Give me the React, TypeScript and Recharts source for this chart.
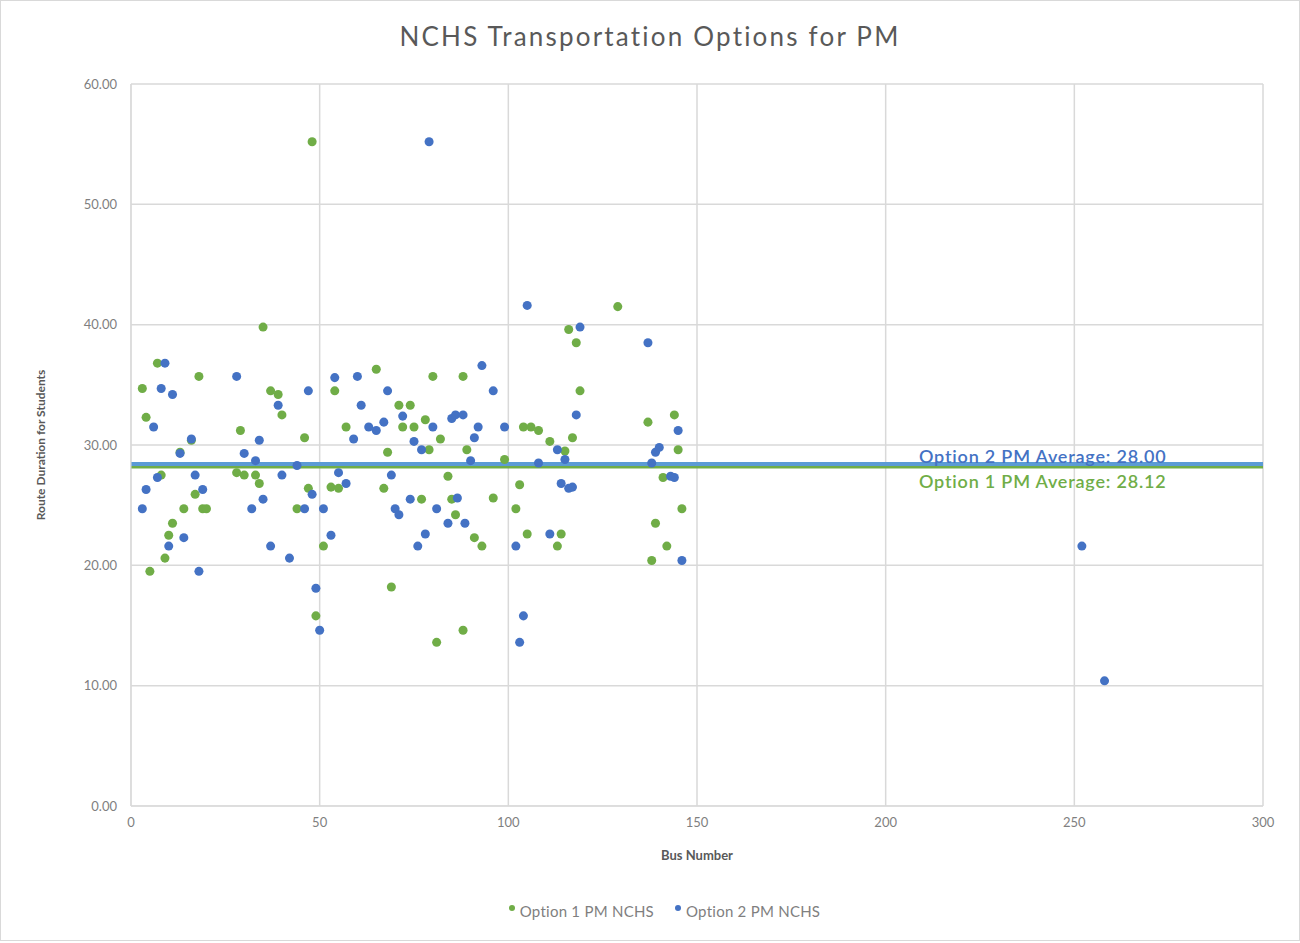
import {
  CartesianGrid,
  ReferenceLine,
  Scatter,
  ScatterChart,
  XAxis,
  YAxis,
  ZAxis,
} from "recharts";

// Option 1 PM NCHS (green)
const opt1Bus = [
  3, 4, 5, 7, 8, 9, 10, 11, 13, 14, 16, 17, 18, 19, 20, 28, 29, 30, 33, 34, 35, 37, 39, 40, 44,
  46, 47, 48, 49, 51, 53, 54, 55, 57, 65, 67, 68, 69, 71, 72, 74, 75, 77, 78, 79, 80, 81, 82, 84,
  85, 86, 88, 88, 89, 91, 93, 96, 99, 102, 103, 104, 105, 106, 108, 111, 113, 114, 115, 116, 117,
  118, 119, 129, 137, 138, 139, 141, 142, 144, 145, 146,
];
const opt1Time = [
  34.7, 32.3, 19.5, 36.8, 27.5, 20.6, 22.5, 23.5, 29.4, 24.7, 30.4, 25.9, 35.7, 24.7, 24.7, 27.7,
  31.2, 27.5, 27.5, 26.8, 39.8, 34.5, 34.2, 32.5, 24.7, 30.6, 26.4, 55.2, 15.8, 21.6, 26.5, 34.5,
  26.4, 31.5, 36.3, 26.4, 29.4, 18.2, 33.3, 31.5, 33.3, 31.5, 25.5, 32.1, 29.6, 35.7, 13.6, 30.5,
  27.4, 25.5, 24.2, 14.6, 35.7, 29.6, 22.3, 21.6, 25.6, 28.8, 24.7, 26.7, 31.5, 22.6, 31.5, 31.2,
  30.3, 21.6, 22.6, 29.5, 39.6, 30.6, 38.5, 34.5, 41.5, 31.9, 20.4, 23.5, 27.3, 21.6, 32.5, 29.6,
  24.7,
];

// Option 2 PM NCHS (blue)
const opt2Bus = [
  3, 4, 6, 7, 8, 9, 10, 11, 13, 14, 16, 17, 18, 19, 28, 30, 32, 33, 34, 35, 37, 39, 40, 42, 44,
  46, 47, 48, 49, 50, 51, 53, 54, 55, 57, 59, 60, 61, 63, 65, 67, 68, 69, 70, 71, 72, 74, 75, 76,
  77, 78, 79, 80, 81, 84, 85, 86, 86.5, 88, 88.5, 90, 91, 92, 93, 96, 99, 102, 103, 104, 105, 108,
  111, 113, 114, 115, 116, 117, 118, 119, 137, 138, 139, 140, 143, 144, 145, 146, 252, 258,
];
const opt2Time = [
  24.7, 26.3, 31.5, 27.3, 34.7, 36.8, 21.6, 34.2, 29.3, 22.3, 30.5, 27.5, 19.5, 26.3, 35.7, 29.3,
  24.7, 28.7, 30.4, 25.5, 21.6, 33.3, 27.5, 20.6, 28.3, 24.7, 34.5, 25.9, 18.1, 14.6, 24.7, 22.5,
  35.6, 27.7, 26.8, 30.5, 35.7, 33.3, 31.5, 31.2, 31.9, 34.5, 27.5, 24.7, 24.2, 32.4, 25.5, 30.3,
  21.6, 29.6, 22.6, 55.2, 31.5, 24.7, 23.5, 32.2, 32.5, 25.6, 32.5, 23.5, 28.7, 30.6, 31.5, 36.6,
  34.5, 31.5, 21.6, 13.6, 15.8, 41.6, 28.5, 22.6, 29.6, 26.8, 28.8, 26.4, 26.5, 32.5, 39.8, 38.5,
  28.5, 29.4, 29.8, 27.4, 27.3, 31.2, 20.4, 21.6, 10.4,
];

const opt1Avg = 28.12;
const opt2Avg = 28.0;

const xTicks = [0, 50, 100, 150, 200, 250, 300];
const yTicks = [0, 10, 20, 30, 40, 50, 60];

const GREEN = "#70ad47";
const BLUE = "#4472c4";
const LINE_BLUE = "#5b9bd5";
const FONT = "Lato, 'Open Sans', sans-serif";

const opt1 = opt1Bus.map((bus, i) => ({ bus, time: opt1Time[i] }));
const opt2 = opt2Bus.map((bus, i) => ({ bus, time: opt2Time[i] }));

// shifts a thick reference line a couple of pixels so both bands stay visible
function shiftedLine(dy: number, color: string) {
  return (props: any) => (
    <line
      x1={props.x1}
      x2={props.x2}
      y1={props.y1 + dy}
      y2={props.y2 + dy}
      stroke={color}
      strokeWidth={4}
    />
  );
}

function avgLabel(text: string, color: string, dy: number) {
  return (props: any) => {
    const vb = props.viewBox;
    return (
      <text
        x={vb.x + 788}
        y={vb.y + dy}
        fill={color}
        fontFamily={FONT}
        fontSize={18}
        fontWeight={600}
        letterSpacing={0.8}
      >
        {text}
      </text>
    );
  };
}

function LegendBox() {
  const items = [
    { name: "Option 1 PM NCHS", color: GREEN },
    { name: "Option 2 PM NCHS", color: BLUE },
  ];
  return (
    <div
      style={{
        position: "absolute",
        top: 901,
        left: 14,
        width: "100%",
        display: "flex",
        justifyContent: "center",
        gap: 20,
        fontFamily: FONT,
      }}
    >
      {items.map((it) => (
        <span
          key={it.name}
          style={{ display: "flex", alignItems: "center", fontSize: 15, color: "#7f7f7f", letterSpacing: 0.25 }}
        >
          <svg width={8} height={14} style={{ marginRight: 4 }}>
            <circle cx={4} cy={4} r={3} fill={it.color} />
          </svg>
          {it.name}
        </span>
      ))}
    </div>
  );
}

export default function App() {
  return (
    <div
      style={{
        position: "absolute",
        left: 0,
        top: 0,
        width: 1298,
        height: 939,
        border: "1px solid #d9d9d9",
        background: "#fff",
        fontFamily: FONT,
      }}
    >
      <div
        style={{
          position: "absolute",
          top: 19,
          width: "100%",
          textAlign: "center",
          fontSize: 26,
          color: "#595959",
          letterSpacing: 2.2,
        }}
      >
        NCHS Transportation Options for PM
      </div>
      <ScatterChart
        width={1298}
        height={939}
        margin={{ top: 83, right: 36, bottom: 84, left: 70 }}
      >
        <CartesianGrid stroke="#d9d9d9" strokeWidth={1.5} />
        <XAxis
          type="number"
          dataKey="bus"
          domain={[0, 300]}
          ticks={xTicks}
          allowDataOverflow
          stroke="#d9d9d9"
          tickLine={false}
          tick={{ fill: "#7f7f7f", fontSize: 13, fontFamily: FONT }}
          tickMargin={6}
          height={50}
          label={{
            value: "Bus Number",
            position: "insideBottom",
            offset: -4,
            fill: "#595959",
            fontSize: 13,
            fontWeight: 700,
            fontFamily: FONT,
          }}
        />
        <YAxis
          type="number"
          dataKey="time"
          domain={[0, 60]}
          ticks={yTicks}
          stroke="#d9d9d9"
          tickLine={false}
          tickFormatter={(v: number) => v.toFixed(2)}
          tick={{ fill: "#7f7f7f", fontSize: 13, fontFamily: FONT }}
          tickMargin={8}
          width={60}
          label={{
            value: "Route  Duration for Students",
            angle: -90,
            position: "insideLeft",
            offset: -30,
            style: { textAnchor: "middle" },
            fill: "#595959",
            fontSize: 12,
            fontWeight: 700,
            fontFamily: FONT,
          }}
        />
        <ZAxis range={[42, 42]} />
        <ReferenceLine
          y={opt1Avg}
          shape={shiftedLine(-1, GREEN)}
          label={avgLabel("Option 1 PM Average: 28.12", GREEN, 20)}
        />
        <ReferenceLine
          y={opt2Avg}
          shape={shiftedLine(-5, LINE_BLUE)}
          label={avgLabel("Option 2 PM Average: 28.00", BLUE, -6)}
        />
        <Scatter name="Option 1 PM NCHS" data={opt1} fill={GREEN} isAnimationActive={false} />
        <Scatter name="Option 2 PM NCHS" data={opt2} fill={BLUE} isAnimationActive={false} />
      </ScatterChart>
      <LegendBox />
    </div>
  );
}
